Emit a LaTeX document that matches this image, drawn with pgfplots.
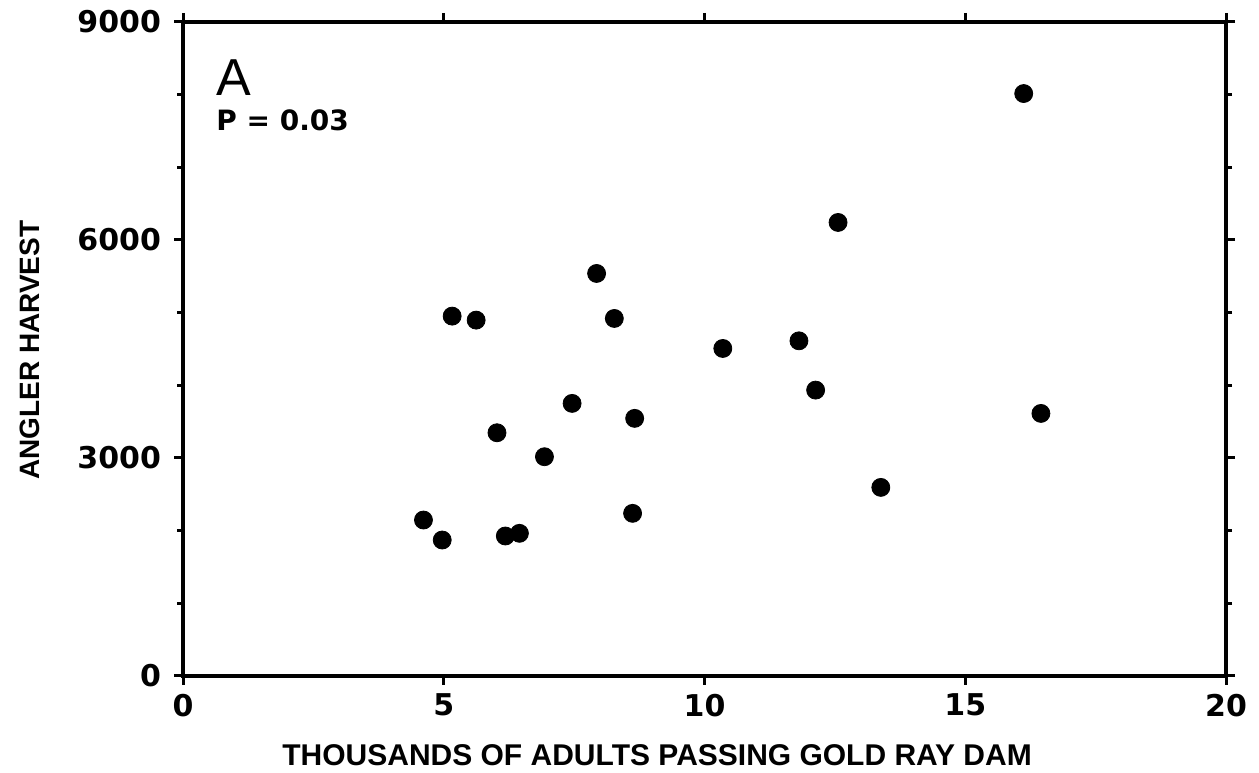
\documentclass[border=0pt]{standalone}
\usepackage{fontspec}
\setmainfont{Liberation Sans}
\newfontfamily\plotfont{DejaVu Sans}
\usepackage{pgfplots}
\pgfplotsset{compat=1.18}
\begin{document}
\begin{tikzpicture}
\begin{axis}[
  scale only axis,
  width=521.5pt, height=327pt,
  xmin=0, xmax=20, ymin=0, ymax=9000,
  xtick={0,5,10,15,20},
  ytick={0,3000,6000,9000},
  minor ytick={1000,2000,4000,5000,7000,8000},
  tick align=outside,
  axis line style={line width=2pt},
  major tick length=4.5pt, minor tick length=3pt,
  every tick/.style={black, line width=1.5pt},
  tick label style={font=\plotfont\fontsize{15}{18}\selectfont\bfseries},
  xticklabel style={yshift=-1pt},
  yticklabel style={xshift=-3pt},
  xlabel style={font=\fontsize{15}{18}\selectfont\bfseries,
    at={(axis description cs:0.4545,-0.121)}, anchor=center},
  ylabel style={font=\fontsize{14}{17}\selectfont\bfseries,
    at={(axis description cs:-0.1467,0.498)}, anchor=center},
  xlabel={THOUSANDS OF ADULTS PASSING GOLD RAY DAM},
  ylabel={ANGLER HARVEST},
  /pgf/number format/assume math mode=true,
  /pgf/number format/set thousands separator={},
  scaled ticks=false,
  clip=false,
]
\addplot[only marks, mark=*, mark size=4.5pt, black] coordinates {
  (4.61,2146) (4.97,1871) (5.16,4952) (5.62,4897) (6.02,3347)
  (6.18,1926) (6.45,1963) (6.93,3017) (7.46,3751) (7.93,5539)
  (8.27,4920) (8.62,2238) (8.66,3545) (10.35,4507) (11.81,4612)
  (12.13,3934) (12.56,6241) (13.38,2595) (16.12,8015) (16.45,3613)
};
\node[anchor=base west, inner sep=0pt, font=\fontsize{26}{30}\selectfont]
  at (axis cs:0.63,7995) {A};
\node[anchor=base west, inner sep=0pt, font=\plotfont\fontsize{14}{17}\selectfont\bfseries]
  at (axis cs:0.63,7513) {P = 0.03};
\path (rel axis cs:-0.1755,-0.1468) rectangle (rel axis cs:1.0316,1.0336);
\end{axis}
\end{tikzpicture}
\end{document}
